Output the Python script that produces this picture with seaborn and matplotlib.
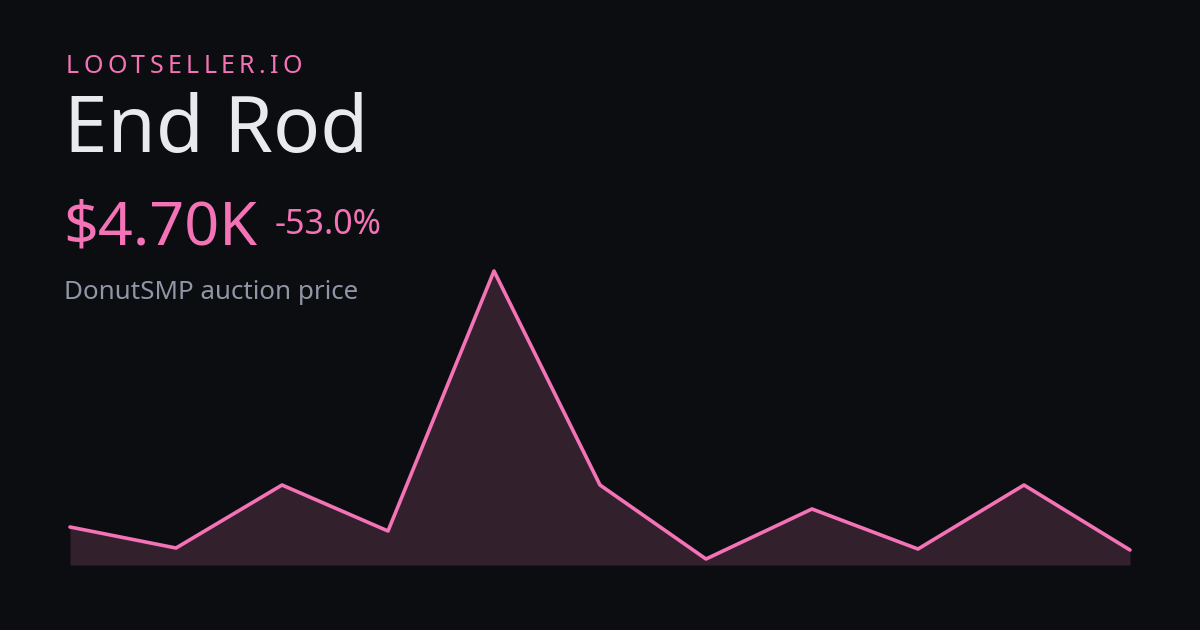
import matplotlib
matplotlib.use("Agg")
import matplotlib.pyplot as plt
import seaborn as sns
import numpy as np
import pandas as pd

# price history (thousands of $)
points = list(range(11))
prices = [10.0, 5.16, 19.67, 9.08, 68.96, 19.67, 2.63, 14.15, 4.93, 19.67, 4.70]

brand = "LOOTSELLER.IO"
item_name = "End Rod"
price_label = "$4.70K"
change_label = "-53.0%"
subtitle = "DonutSMP auction price"

BG = "#0c0d10"
PINK = "#f472b6"
FILL = "#33202d"

sns.set_style("dark", {"axes.facecolor": BG, "figure.facecolor": BG})
plt.rcParams["font.family"] = ["Noto Sans", "DejaVu Sans"]

W, H = 1200, 630
fig = plt.figure(figsize=(W / 100, H / 100), dpi=100)
fig.patch.set_facecolor(BG)

# chart area in pixels: x 70..1130, top 271, bottom 565
left, right, top, bottom = 70, 1130, 271, 565
ax = fig.add_axes([left / W, 1 - bottom / H, (right - left) / W, (bottom - top) / H])
ax.set_facecolor(BG)

df = pd.DataFrame({"t": points, "price": prices})
vmin, vmax = min(prices), max(prices)
lo = vmin - (vmax - vmin) * 6 / 288
ax.fill_between(df["t"], df["price"], lo, color=FILL, linewidth=0, zorder=1)
sns.lineplot(data=df, x="t", y="price", ax=ax, color=PINK, linewidth=2.6,
             zorder=2, clip_on=False)
ax.set_xlim(points[0], points[-1])
ax.set_ylim(lo, vmax)
ax.axis("off")


def px(x, y):
    return x / W, 1 - y / H


# brand line with letter spacing
renderer = fig.canvas.get_renderer()
chars = []
x = 66
for ch in brand:
    t = fig.text(*px(x, 73), ch, fontsize=18, color=PINK, va="baseline", ha="left")
    w = t.get_window_extent(renderer).width
    chars.append((t, w))
    x += w
total = sum(w for _, w in chars)
track = (302 - 66 - total) / (len(brand) - 1)
x = 66
for t, w in chars:
    t.set_position(px(x, 73))
    x += w + track

fig.text(*px(64, 152), item_name, fontsize=56.3, color="#e9eaee", va="baseline", ha="left")
fig.text(*px(63, 244), price_label, fontsize=44, color=PINK, va="baseline", ha="left")
fig.text(*px(275, 234), change_label, fontsize=24.5, color=PINK, va="baseline", ha="left")
fig.text(*px(64, 299), subtitle, fontsize=18.7, color="#9096a6", va="baseline", ha="left")

fig.savefig("out.png", dpi=100, facecolor=BG)
